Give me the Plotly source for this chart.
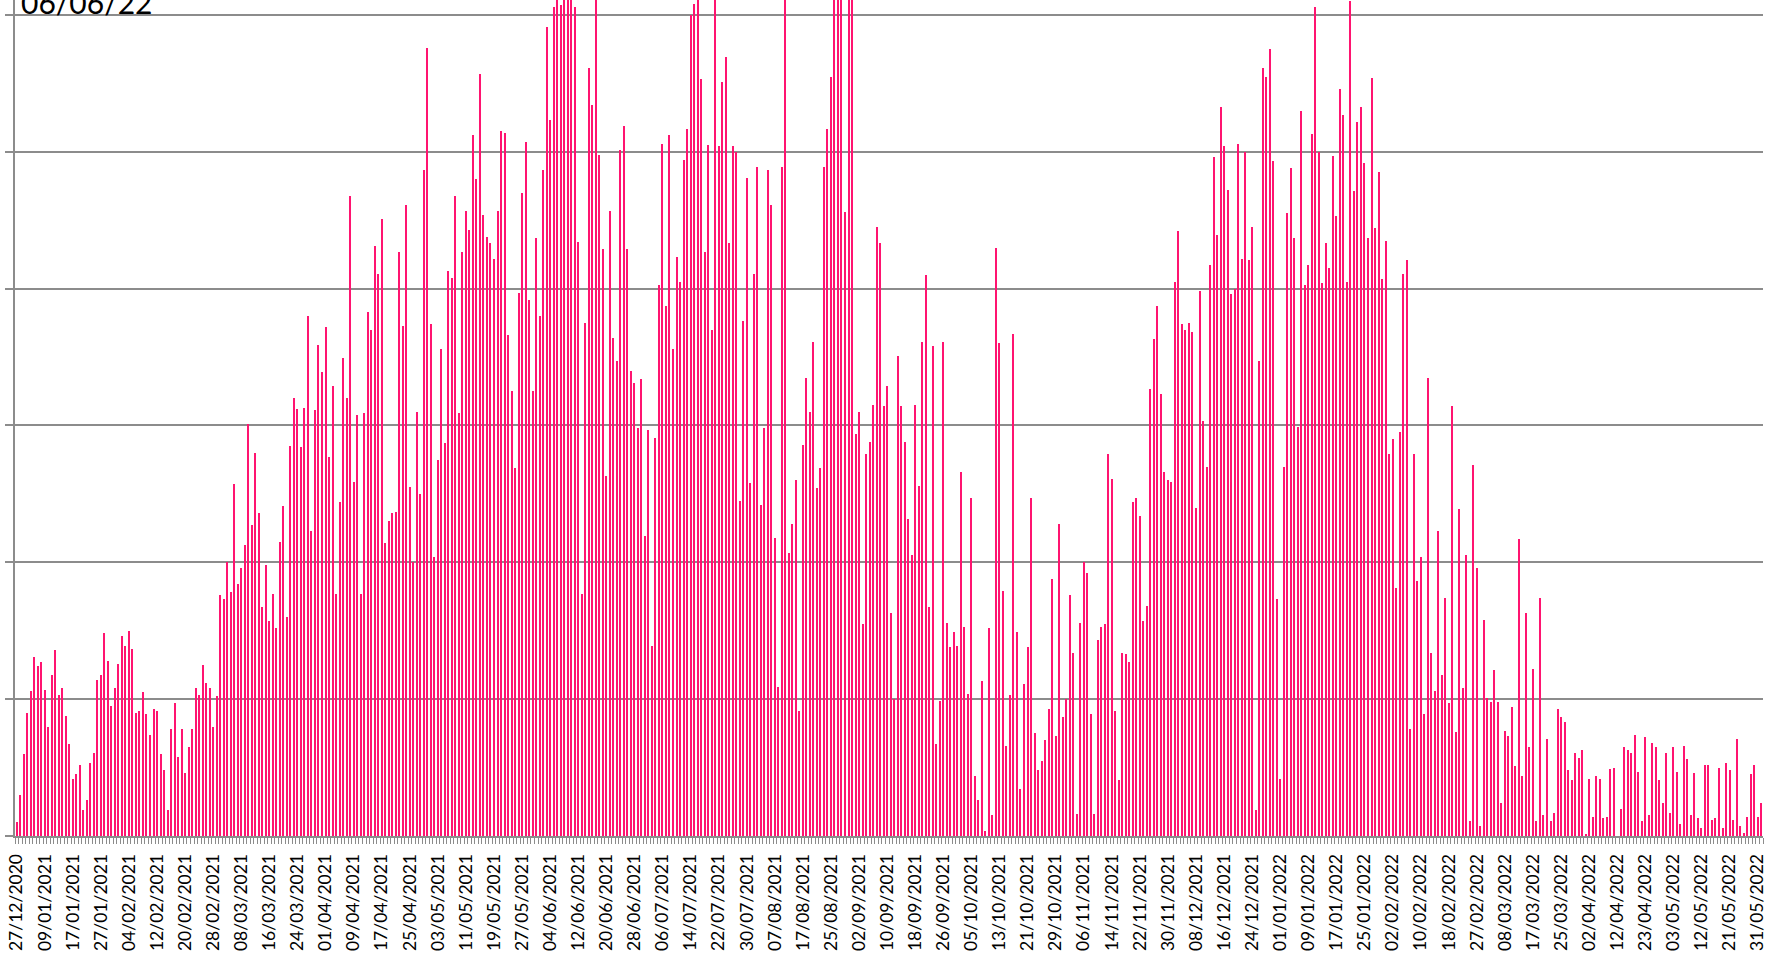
import plotly.graph_objects as go

title_text = "06/06/22"

tick_labels = [
    "27/12/2020", "09/01/2021", "17/01/2021", "27/01/2021", "04/02/2021", "12/02/2021",
    "20/02/2021", "28/02/2021", "08/03/2021", "16/03/2021", "24/03/2021", "01/04/2021",
    "09/04/2021", "17/04/2021", "25/04/2021", "03/05/2021", "11/05/2021", "19/05/2021",
    "27/05/2021", "04/06/2021", "12/06/2021", "20/06/2021", "28/06/2021", "06/07/2021",
    "14/07/2021", "22/07/2021", "30/07/2021", "07/08/2021", "17/08/2021", "25/08/2021",
    "02/09/2021", "10/09/2021", "18/09/2021", "26/09/2021", "05/10/2021", "13/10/2021",
    "21/10/2021", "29/10/2021", "06/11/2021", "14/11/2021", "22/11/2021", "30/11/2021",
    "08/12/2021", "16/12/2021", "24/12/2021", "01/01/2022", "09/01/2022", "17/01/2022",
    "25/01/2022", "02/02/2022", "10/02/2022", "18/02/2022", "27/02/2022", "08/03/2022",
    "17/03/2022", "25/03/2022", "02/04/2022", "12/04/2022", "23/04/2022", "03/05/2022",
    "12/05/2022", "21/05/2022", "31/05/2022",
]
label_every = 8

values_part1 = [
    0.10, 0.30, 0.60, 0.90, 1.06, 1.31, 1.24, 1.27, 1.07, 0.80,
    1.18, 1.36, 1.03, 1.08, 0.88, 0.67, 0.42, 0.45, 0.52, 0.19,
    0.26, 0.53, 0.61, 1.14, 1.18, 1.48, 1.28, 0.95, 1.08, 1.26,
    1.46, 1.39, 1.50, 1.37, 0.90, 0.91, 1.05, 0.89, 0.74, 0.93,
    0.91, 0.60, 0.48, 0.19, 0.78, 0.97, 0.58, 0.78, 0.46, 0.65,
    0.78, 1.08, 1.03, 1.25, 1.12, 1.08, 0.80, 1.02, 1.76, 1.73,
    2.00, 1.78, 2.57, 1.84, 1.96, 2.13, 3.01, 2.27, 2.80, 2.36,
    1.67, 1.98, 1.57, 1.77, 1.52, 2.15, 2.41, 1.60, 2.85, 3.20,
    3.12, 2.84, 3.13,
]
values_part2 = [
    3.80, 2.23, 3.11, 3.59, 3.39, 3.72, 2.77, 3.29, 1.77, 2.44,
    3.49, 3.20, 4.68, 2.59, 3.08, 1.77, 3.09, 3.83, 3.70, 4.31,
    4.11, 4.51, 2.14, 2.30, 2.36, 2.37, 4.27, 3.73, 4.61, 2.55,
    2.00, 3.10, 2.50, 4.87, 5.76, 3.74, 2.04, 2.75, 3.56, 2.87,
    4.13, 4.08, 4.68, 3.09, 4.27, 4.57, 4.43, 5.12, 4.80, 5.57,
    4.54, 4.38, 4.33, 4.22, 4.57, 5.15, 5.14, 3.66, 3.25, 2.69,
    3.97, 4.70, 5.07, 3.92, 3.25, 4.37, 3.80, 4.87, 5.91, 5.23,
    6.06, 6.50, 6.07, 6.50, 6.50, 6.50, 6.06, 4.34, 1.77, 3.75,
    5.61, 5.34, 6.50,
]
values_part3 = [
    4.98, 4.29, 2.63, 4.57, 3.64, 3.47, 5.01, 5.19, 4.29, 3.40,
    3.31, 2.98, 3.34, 2.19, 2.97, 1.39, 2.91, 4.03, 5.06, 3.87,
    5.12, 3.56, 4.23, 4.05, 4.94, 5.17, 6.00, 6.08, 6.50, 5.53,
    4.27, 5.05, 3.70, 6.50, 5.04, 5.51, 5.69, 4.33, 5.04, 5.00,
    2.45, 3.76, 4.81, 2.58, 4.11, 4.89, 2.42, 2.98, 4.87, 4.61,
    2.18, 1.09, 4.89, 6.50, 2.07, 2.28, 2.60, 0.91, 2.86, 3.35,
    3.10, 3.61, 2.54, 2.69, 4.89, 5.17, 5.55, 6.50, 6.50, 6.50,
    4.56, 6.50, 6.50, 2.94, 3.10, 1.55, 2.79, 2.88, 3.15, 4.45,
    4.33, 3.14, 3.29, 1.63,
]
values_part4 = [
    1.00, 3.51, 3.14, 2.88, 2.32, 2.05, 3.15, 2.56, 3.61, 4.10,
    1.67, 3.58, 0.67, 0.99, 3.61, 1.56, 1.38, 1.49, 1.39, 2.66,
    1.53, 1.04, 2.47, 0.44, 0.26, 1.13, 0.04, 1.52, 0.15, 4.30,
    3.60, 1.79, 0.66, 1.03, 3.67, 1.49, 0.34, 1.11, 1.38, 2.47,
    0.75, 0.48, 0.55, 0.70, 0.93, 1.88, 0.73, 2.28, 0.87, 1.00,
    1.76, 1.34, 0.16, 1.56, 2.00, 1.92, 0.89, 0.16, 1.43, 1.53,
    1.55, 2.79, 2.61, 0.91, 0.41, 1.34, 1.33, 1.27, 2.44, 2.47,
    2.34, 1.57, 1.68, 3.27, 3.63, 3.87, 3.23, 2.66, 2.60, 2.59,
    4.05, 4.42, 3.74, 3.70,
]
values_part5 = [
    3.75, 3.68, 2.40, 3.98, 3.03, 2.70, 4.17, 4.96, 4.39, 5.33,
    5.04, 4.72, 3.96, 4.00, 5.06, 4.22, 5.00, 4.21, 4.45, 0.19,
    3.47, 5.61, 5.55, 5.75, 4.93, 1.73, 0.42, 2.70, 4.55, 4.88,
    4.37, 2.99, 5.30, 4.03, 4.17, 5.13, 6.06, 5.00, 4.04, 4.33,
    4.15, 4.97, 4.53, 5.46, 5.27, 4.05, 6.10, 4.71, 5.22, 5.33,
    4.92, 4.37, 5.54, 4.44, 4.85, 4.07, 4.35, 2.79, 2.90, 1.81,
    2.95, 4.11, 4.21, 0.78, 2.79, 1.86, 2.04, 0.89, 3.35, 1.34,
    1.06, 2.23, 1.18, 1.74, 0.97, 3.14, 0.76, 2.39, 1.08, 2.05,
    0.11, 2.71, 1.96,
]
values_part6 = [
    0.07, 1.58, 1.01, 0.98, 1.21, 0.98, 0.24, 0.77, 0.73, 0.94,
    0.51, 2.17, 0.44, 1.63, 0.65, 1.22, 0.11, 1.74, 0.15, 0.71,
    0.11, 0.17, 0.93, 0.87, 0.83, 0.48, 0.41, 0.61, 0.57, 0.63,
    0.01, 0.42, 0.14, 0.44, 0.42, 0.13, 0.14, 0.49, 0.50, 0.00,
    0.20, 0.65, 0.63, 0.61, 0.74, 0.47, 0.11, 0.72, 0.15, 0.68,
    0.65, 0.41, 0.24, 0.61, 0.17, 0.65, 0.47, 0.09, 0.66, 0.56,
    0.15, 0.46, 0.13, 0.06, 0.52, 0.52, 0.12, 0.13, 0.50, 0.06,
    0.53, 0.48, 0.12, 0.71, 0.07, 0.02, 0.14, 0.45, 0.52, 0.14,
    0.24,
]

values = (values_part1 + values_part2 + values_part3
          + values_part4 + values_part5 + values_part6)
x_index = list(range(len(values)))
tick_positions = x_index[::label_every][:len(tick_labels)]

BAR_COLOR = "#FF1470"
GRID_COLOR = "#8C8C8C"
FONT = "Lato, 'Liberation Sans', sans-serif"

fig = go.Figure(
    go.Bar(
        x=x_index,
        y=values,
        width=0.36,
        marker=dict(color=BAR_COLOR, line=dict(width=0)),
        hoverinfo="y",
    )
)

fig.update_layout(
    width=1767,
    height=956,
    margin=dict(l=15, r=4, t=0, b=120, autoexpand=False),
    paper_bgcolor="white",
    plot_bgcolor="white",
    showlegend=False,
    bargap=0,
    font=dict(family=FONT, color="black"),
)

fig.update_xaxes(
    automargin=False,
    range=[-0.5, len(values) - 0.5],
    tickmode="array",
    tickvals=tick_positions,
    ticktext=tick_labels,
    tickangle=-90,
    tickfont=dict(size=17.5, color="black", family=FONT),
    ticklabeloverflow="allow",
    ticks="outside",
    ticklen=9,
    tickcolor="rgba(0,0,0,0)",
    showgrid=False,
    showline=True,
    linecolor=GRID_COLOR,
    linewidth=2,
    zeroline=False,
    minor=dict(
        tickmode="linear",
        tick0=-0.5,
        dtick=1,
        ticks="outside",
        ticklen=6,
        tickwidth=1,
        tickcolor=GRID_COLOR,
        showgrid=False,
    ),
)

fig.update_yaxes(
    automargin=False,
    range=[0, 6.109],
    tickmode="linear",
    tick0=0,
    dtick=1,
    showticklabels=False,
    ticks="outside",
    ticklen=8,
    tickwidth=1.5,
    tickcolor=GRID_COLOR,
    showgrid=True,
    gridcolor=GRID_COLOR,
    gridwidth=1.5,
    showline=True,
    linecolor=GRID_COLOR,
    linewidth=2,
    zeroline=False,
)

fig.add_annotation(
    text=title_text,
    xref="paper",
    yref="paper",
    x=0,
    y=1,
    xanchor="left",
    yanchor="bottom",
    xshift=4,
    yshift=-22,
    showarrow=False,
    font=dict(size=30, color="black", family=FONT),
)

fig.write_html(
    "out.html",
    config={"displayModeBar": False},
    post_script="document.body.style.margin='0';document.body.style.overflow='hidden';",
)
